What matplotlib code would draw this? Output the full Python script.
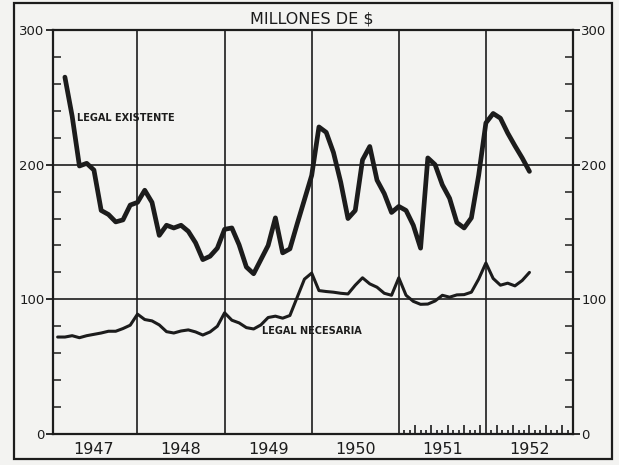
import numpy as np
import matplotlib
matplotlib.use("Agg")
import matplotlib.pyplot as plt
from matplotlib.patches import Rectangle

# valores mensuales (fin de mes), millones de $
# mes 1 = enero 1947
inicio_existente = 2
legal_existente = [
    265, 236, 199, 201, 196, 166, 163, 157.5, 159, 170, 172,
    181, 172, 147.5, 155, 153, 155, 150.5, 142, 129.5, 132, 138, 152,
    153, 140.5, 124, 119, 129.5, 140, 160.5, 134.5, 137.5, 156, 174, 192,
    228, 224, 209, 187, 160, 166, 203.5, 213.5, 188.5, 178.5, 164.5, 169,
    166, 155, 138, 205, 200, 185, 175, 157, 153, 160.5, 192, 231,
    238, 234.5, 223.5, 214, 205, 195,
]
inicio_necesaria = 1
legal_necesaria = [
    72, 72, 73, 71.5, 73, 74, 75, 76.3, 76.3, 78.3, 80.8, 89,
    85, 84, 81, 76, 75, 76.5, 77.3, 75.8, 73.5, 75.8, 80, 90,
    84.5, 82.5, 79, 78, 81, 86.5, 87.5, 86, 88, 101.5, 115, 119.5,
    106.5, 105.8, 105.3, 104.5, 104, 110.5, 116, 111.5, 109, 104.5, 103, 116,
    103, 98.5, 96.3, 96.5, 98.8, 103, 101.6, 103.3, 103.5, 105.3, 115, 127,
    115.5, 110.5, 112, 110, 114, 120,
]
anios = [1947, 1948, 1949, 1950, 1951, 1952]
niveles = [0, 100, 200, 300]

tinta = "#1c1c1c"
fondo = "#f3f3f1"


def meses_a_anio(inicio, n):
    return 1947 + (inicio + np.arange(n)) / 12.0


fig = plt.figure(figsize=(6.19, 4.65), dpi=100, facecolor=fondo)
ax = fig.add_axes([53 / 619, 1 - 434 / 465, 520 / 619, 404 / 465])
ax.set_facecolor(fondo)

# marco exterior de la lamina
fig.patches.append(Rectangle((14 / 619, 1 - 459 / 465), 598 / 619, 456 / 465,
                             transform=fig.transFigure, fill=False,
                             edgecolor=tinta, linewidth=1.6))

t_ex = meses_a_anio(inicio_existente, len(legal_existente))
t_ne = meses_a_anio(inicio_necesaria, len(legal_necesaria))

ax.set_xlim(1947.03, 1953.0)
ax.set_ylim(0, 300)

# reticula
for a in anios[1:]:
    ax.axvline(a, color=tinta, linewidth=1.2, zorder=1)
for v in niveles[1:-1]:
    ax.axhline(v, color=tinta, linewidth=1.2, zorder=1)

ax.plot(t_ex, legal_existente, color=tinta, linewidth=3.4,
        solid_joinstyle="round", solid_capstyle="round", zorder=3)
ax.plot(t_ne, legal_necesaria, color=tinta, linewidth=2.2,
        solid_joinstyle="round", solid_capstyle="round", zorder=3)

ax.text(1947.31, 235, "LEGAL EXISTENTE", fontsize=7, fontweight="bold",
        color=tinta, ha="left", va="center")
ax.text(1949.43, 76.5, "LEGAL NECESARIA", fontsize=7, fontweight="bold",
        color=tinta, ha="left", va="center")

fig.text(0.504, 1 - 19 / 465, "MILLONES DE $", fontsize=11.5,
         color=tinta, ha="center", va="center")

for s in ax.spines.values():
    s.set_color(tinta)
    s.set_linewidth(1.6)

# eje y a ambos lados
ax.set_yticks(niveles)
ax.set_yticks(np.arange(20, 300, 20), minor=True)
ax.tick_params(axis="y", which="major", direction="out", length=5, width=1.3,
               color=tinta, labelsize=9.5, labelcolor=tinta, pad=1,
               left=True, right=True, labelleft=True, labelright=True)
ax.tick_params(axis="y", which="minor", direction="in", length=6, width=1.1,
               color=tinta, left=True, right=True)

# anios centrados en cada intervalo
ax.set_xticks([a + 0.5 for a in anios])
ax.set_xticklabels([str(a) for a in anios])
ax.tick_params(axis="x", which="major", length=0, pad=6, labelsize=11.5,
               labelcolor=tinta)

# marcas cortas al pie en 1951-1952
marcas = [1951 + j / 16 for j in range(1, 32) if j != 16]
altos = [0.022 if (j % 3 == 0) else 0.011 for j in range(1, 32) if j != 16]
ax.vlines(marcas, 0, altos, transform=ax.get_xaxis_transform(),
          color=tinta, linewidth=1.2, zorder=2)

fig.savefig("out.png", dpi=100, facecolor=fondo)
